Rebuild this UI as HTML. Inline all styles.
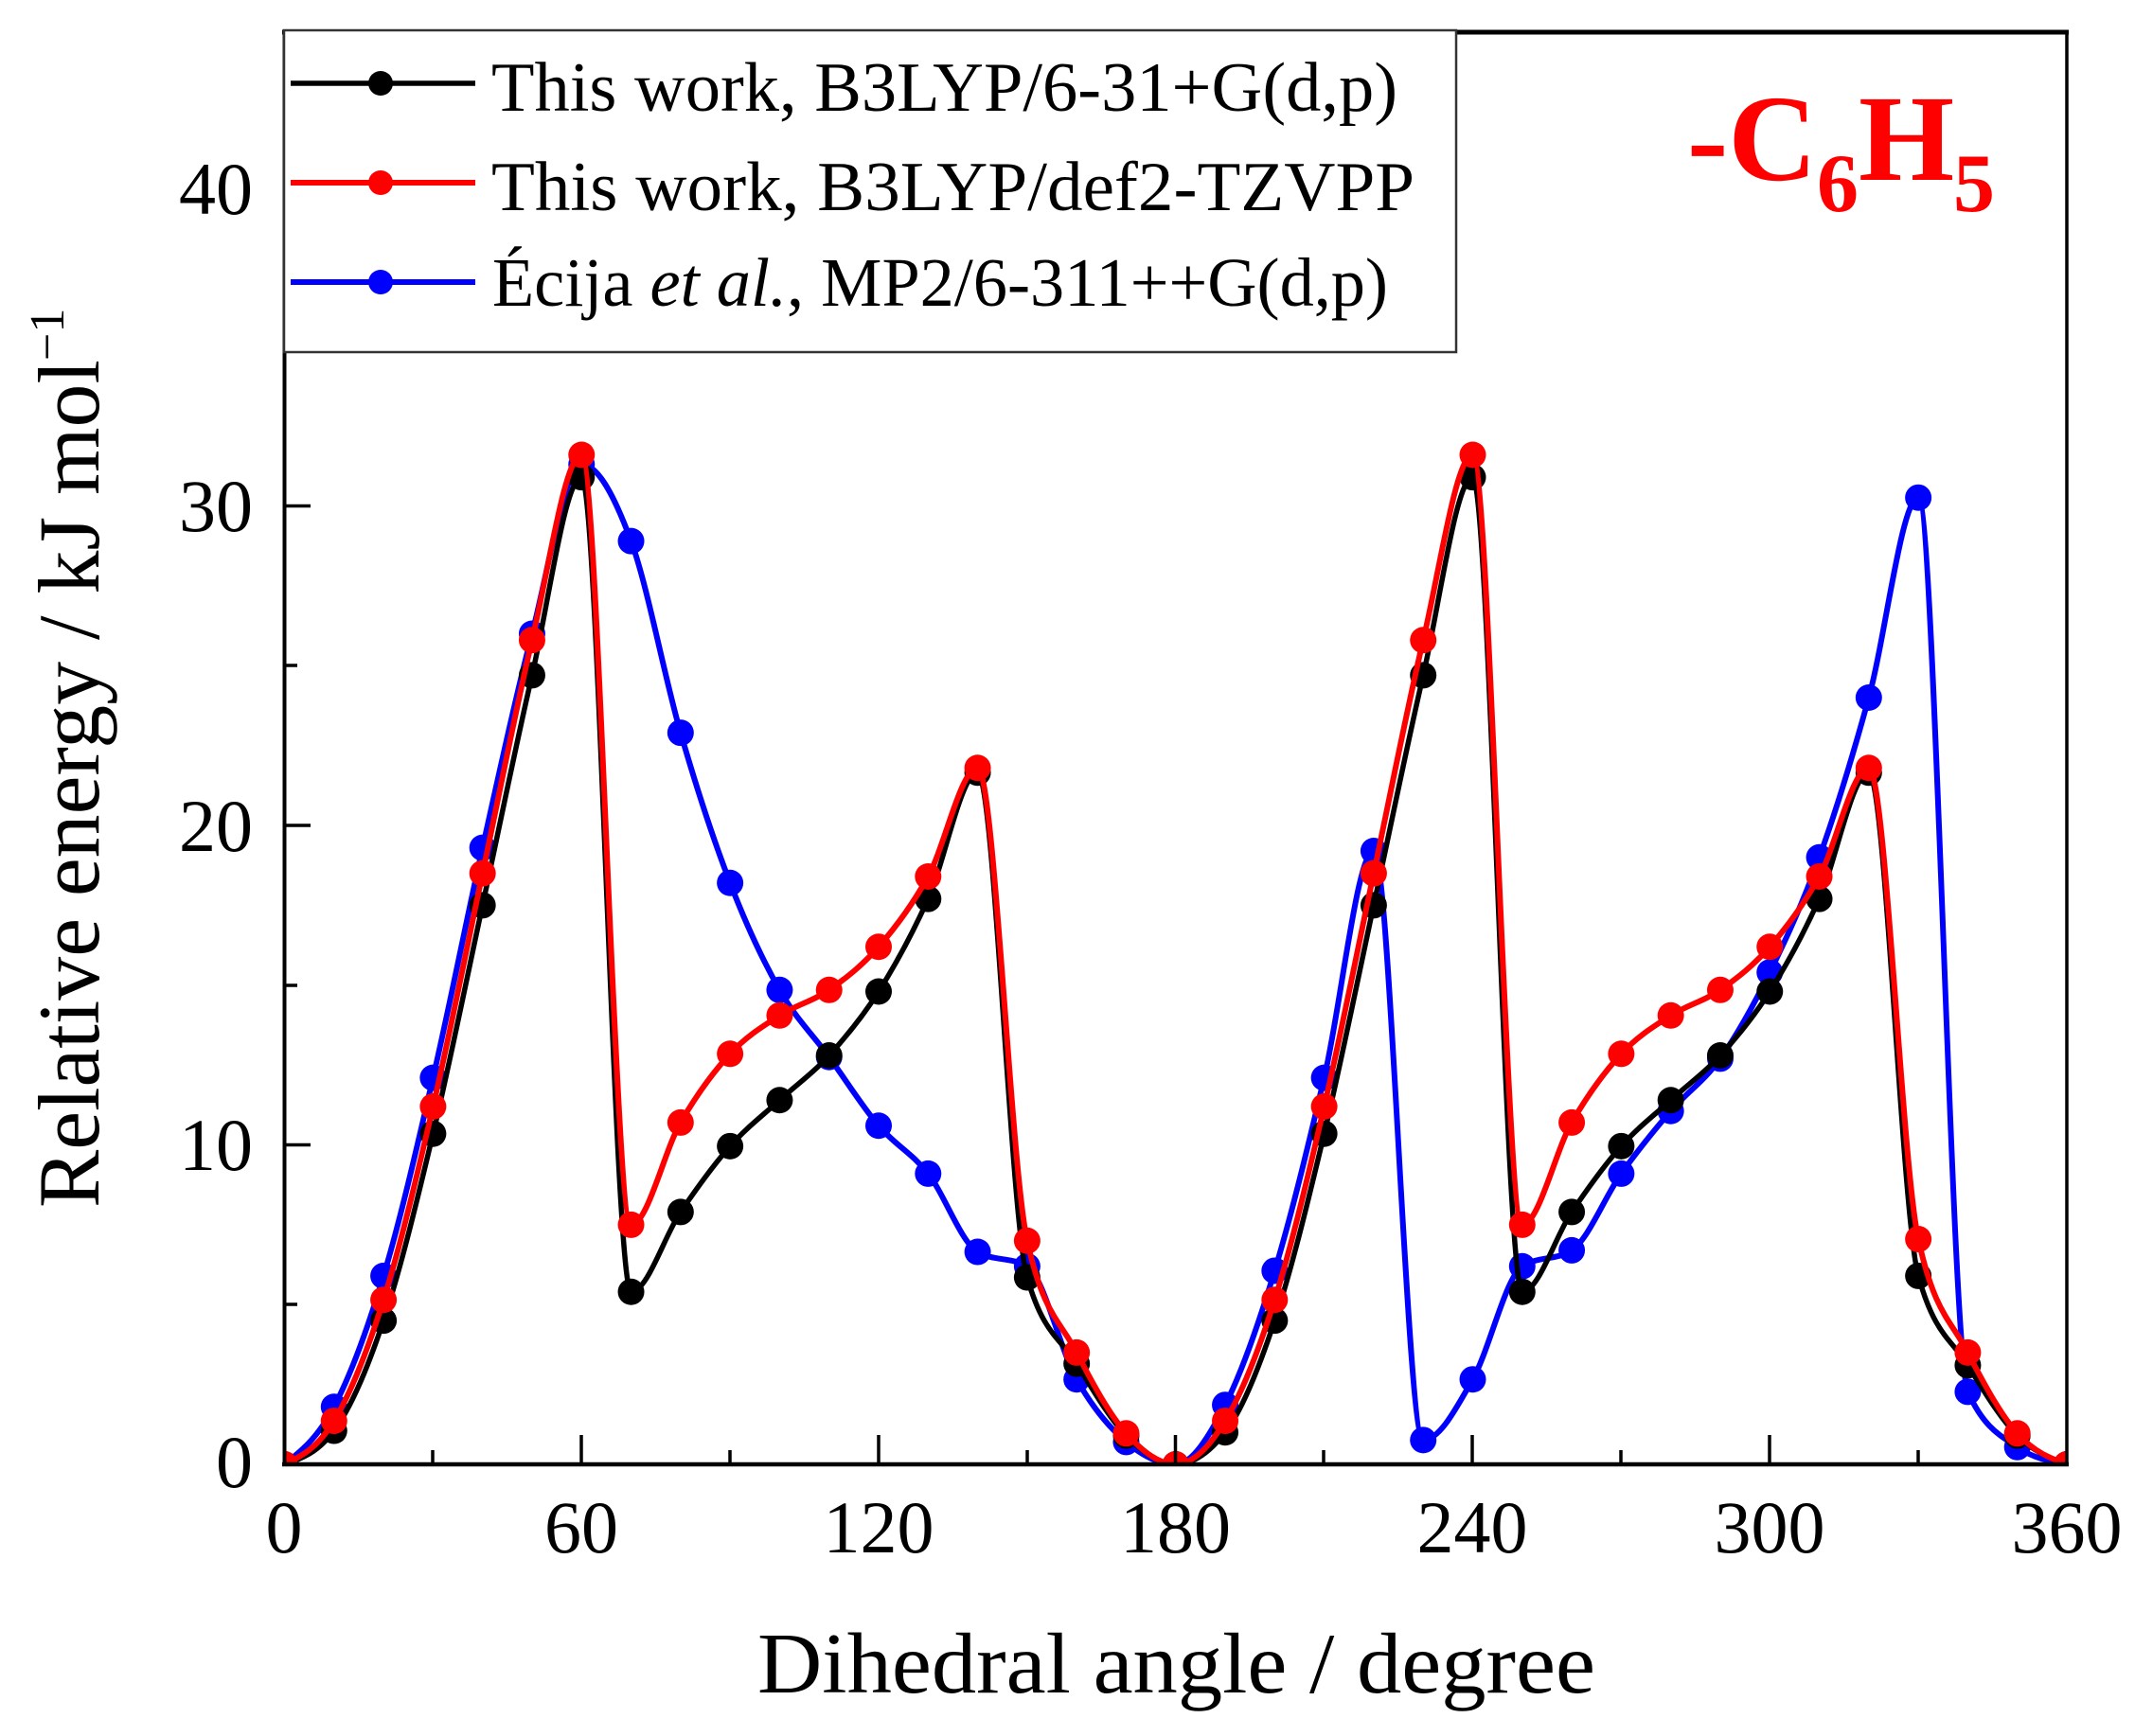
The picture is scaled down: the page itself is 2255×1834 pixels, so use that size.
<!DOCTYPE html>
<html>
<head>
<meta charset="utf-8">
<style>
html,body{margin:0;padding:0;background:#fff;}
svg{display:block;}
text{font-family:"Liberation Serif","DejaVu Serif",serif;}
</style>
</head>
<body>
<svg id="chart" width="2255" height="1834" viewBox="0 0 2255 1834" xmlns="http://www.w3.org/2000/svg">
<defs>
<clipPath id="pa"><rect x="300" y="34" width="1883" height="1513"/></clipPath>
</defs>
<rect x="0" y="0" width="2255" height="1834" fill="#fff"/>

<!-- series container -->
<g id="series" clip-path="url(#pa)"></g>

<!-- frame -->
<line x1="300.5" y1="32" x2="300.5" y2="1549" stroke="#000" stroke-width="4"/>
<line x1="298" y1="1547" x2="2185" y2="1547" stroke="#000" stroke-width="4.5"/>
<line x1="298" y1="34" x2="2185" y2="34" stroke="#000" stroke-width="5"/>
<line x1="2183" y1="32" x2="2183" y2="1549" stroke="#000" stroke-width="3.5"/>

<!-- x ticks -->
<g stroke="#000" stroke-width="3.5">
<line x1="300.5" y1="1547" x2="300.5" y2="1516"/>
<line x1="614" y1="1547" x2="614" y2="1516"/>
<line x1="928" y1="1547" x2="928" y2="1516"/>
<line x1="1241.5" y1="1547" x2="1241.5" y2="1516"/>
<line x1="1555" y1="1547" x2="1555" y2="1516"/>
<line x1="1869" y1="1547" x2="1869" y2="1516"/>
<line x1="457" y1="1547" x2="457" y2="1532"/>
<line x1="771" y1="1547" x2="771" y2="1532"/>
<line x1="1085" y1="1547" x2="1085" y2="1532"/>
<line x1="1398" y1="1547" x2="1398" y2="1532"/>
<line x1="1712" y1="1547" x2="1712" y2="1532"/>
<line x1="2026" y1="1547" x2="2026" y2="1532"/>
</g>
<!-- y ticks -->
<g stroke="#000" stroke-width="3.5">
<line x1="300" y1="1209.5" x2="328" y2="1209.5"/>
<line x1="300" y1="872" x2="328" y2="872"/>
<line x1="300" y1="534.5" x2="328" y2="534.5"/>
<line x1="300" y1="1378" x2="314" y2="1378"/>
<line x1="300" y1="1041" x2="314" y2="1041"/>
<line x1="300" y1="703" x2="314" y2="703"/>
</g>

<!-- tick labels -->
<g font-size="78" text-anchor="end" fill="#000">
<text x="267" y="1571">0</text>
<text x="267" y="1236">10</text>
<text x="267" y="899">20</text>
<text x="267" y="561">30</text>
<text x="267" y="226">40</text>
</g>
<g font-size="78" text-anchor="middle" fill="#000">
<text x="300" y="1640">0</text>
<text x="614" y="1640">60</text>
<text x="928" y="1640">120</text>
<text x="1241.5" y="1640">180</text>
<text x="1555" y="1640">240</text>
<text x="1869" y="1640">300</text>
<text x="2183" y="1640">360</text>
</g>

<!-- axis titles -->
<text x="800" y="1788" font-size="91" fill="#000" textLength="885" lengthAdjust="spacingAndGlyphs">Dihedral angle / degree</text>
<text transform="translate(104,1276) rotate(-90)" font-size="92" fill="#000" textLength="896" lengthAdjust="spacingAndGlyphs">Relative energy / kJ mol</text>
<text transform="translate(67,381) rotate(-90)" font-size="52" fill="#000">−1</text>

<!-- legend -->
<rect x="300" y="32" width="1238" height="340" fill="#fff" stroke="#333" stroke-width="2.5"/>
<line x1="307" y1="88" x2="502" y2="88" stroke="#000" stroke-width="5.5"/>
<circle cx="402" cy="88" r="13" fill="#000"/>
<line x1="307" y1="193" x2="502" y2="193" stroke="#ff0000" stroke-width="6"/>
<circle cx="402" cy="193" r="13" fill="#ff0000"/>
<line x1="307" y1="298" x2="502" y2="298" stroke="#0000ff" stroke-width="6"/>
<circle cx="402" cy="298" r="13" fill="#0000ff"/>
<text x="519" y="117" font-size="74" fill="#000" textLength="957" lengthAdjust="spacingAndGlyphs">This work, B3LYP/6-31+G(d,p)</text>
<text x="519" y="222" font-size="74" fill="#000" textLength="975" lengthAdjust="spacingAndGlyphs">This work, B3LYP/def2-TZVPP</text>
<text x="520" y="323" font-size="73" fill="#000" textLength="946" lengthAdjust="spacingAndGlyphs">Écija <tspan font-style="italic">et al.</tspan>, MP2/6-311++G(d,p)</text>

<!-- species label -->
<g font-weight="bold" style="fill:#ff0000">
<text x="1782" y="190" font-size="130" style="fill:#ff0000">-C</text>
<text x="1919" y="223" font-size="88" style="fill:#ff0000">6</text>
<text x="1963" y="190" font-size="130" style="fill:#ff0000">H</text>
<text x="2063" y="223" font-size="88" style="fill:#ff0000">5</text>
</g>
</svg>
<script>
(function(){
var X0=300.5, XS=(2183-300.5)/360, Y0=1547, YS=33.75;
var black=[0,1.05,4.5,10.35,17.5,24.7,30.9,5.4,7.9,9.96,11.4,12.8,14.8,17.7,21.65,5.85,3.15,0.9,0,1.0,4.5,10.35,17.5,24.7,30.9,5.4,7.9,9.96,11.4,12.8,14.8,17.7,21.65,5.9,3.1,0.9,0];
var red=[0,1.36,5.15,11.2,18.5,25.8,31.6,7.5,10.7,12.85,14.05,14.85,16.2,18.4,21.8,7.0,3.5,0.97,0,1.36,5.15,11.2,18.5,25.8,31.6,7.5,10.7,12.85,14.05,14.85,16.2,18.4,21.8,7.05,3.5,0.97,0];
var blue=[0,1.8,5.9,12.1,19.3,26.0,31.3,28.9,22.9,18.2,14.85,12.75,10.6,9.1,6.65,6.2,2.66,0.7,0,1.86,6.06,12.1,19.2,0.76,2.66,6.2,6.7,9.1,11.06,12.7,15.4,19.0,24.0,30.26,2.27,0.54,0];
var NS="http://www.w3.org/2000/svg";
var g=document.getElementById("series");
function sgn(v){return v<0?-1:(v>0?1:0);}
function draw(vals,color,lw){
  var n=vals.length,xs=[],ys=[],i;
  for(i=0;i<n;i++){xs.push(X0+i*10*XS);ys.push(Y0-vals[i]*YS);}
  var h=10*XS,s=[],t=[];
  for(i=0;i<n-1;i++)s.push((ys[i+1]-ys[i])/h);
  for(i=1;i<n-1;i++){
    var p=(s[i-1]+s[i])/2;
    t[i]=(sgn(s[i-1])+sgn(s[i]))*Math.min(Math.abs(s[i-1]),Math.abs(s[i]),0.5*Math.abs(p))||0;
  }
  t[0]=(3*s[0]-t[1])/2;
  t[n-1]=(3*s[n-2]-t[n-2])/2;
  var d="M"+xs[0].toFixed(2)+","+ys[0].toFixed(2);
  for(i=0;i<n-1;i++){
    d+=" C"+(xs[i]+h/3).toFixed(2)+","+(ys[i]+t[i]*h/3).toFixed(2)+" "+(xs[i+1]-h/3).toFixed(2)+","+(ys[i+1]-t[i+1]*h/3).toFixed(2)+" "+xs[i+1].toFixed(2)+","+ys[i+1].toFixed(2);
  }
  var path=document.createElementNS(NS,"path");
  path.setAttribute("d",d);path.setAttribute("fill","none");
  path.setAttribute("stroke",color);path.setAttribute("stroke-width",lw);
  path.setAttribute("stroke-linejoin","round");
  g.appendChild(path);
  for(i=0;i<n;i++){
    var c=document.createElementNS(NS,"circle");
    c.setAttribute("cx",xs[i].toFixed(2));c.setAttribute("cy",ys[i].toFixed(2));
    c.setAttribute("r","14");c.setAttribute("fill",color);
    g.appendChild(c);
  }
}
draw(blue,"#0000ff",6);
draw(black,"#000000",5.5);
draw(red,"#ff0000",6);
})();
</script>
</body>
</html>
